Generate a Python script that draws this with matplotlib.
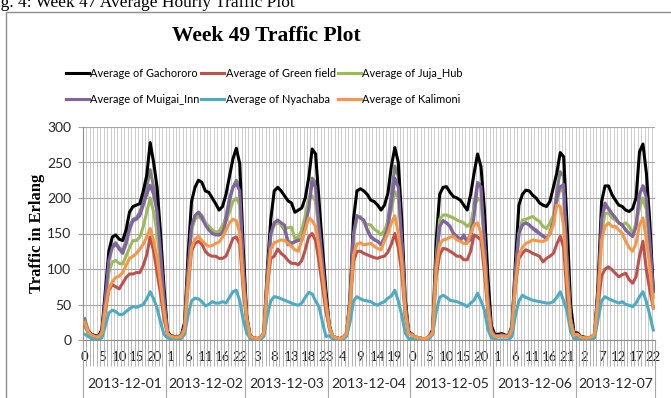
import numpy as np
import matplotlib.pyplot as plt
from matplotlib.patches import Rectangle

plt.rcParams['font.family'] = ['Lato', 'DejaVu Sans']

dates = ['2013-12-01', '2013-12-02', '2013-12-03', '2013-12-04',
         '2013-12-05', '2013-12-06', '2013-12-07']
# hours present in the export for each day (12-02 has no 17:00 row, 12-07 stops at 22:00)
day_hours = [list(range(24)),
             [h for h in range(24) if h != 17],
             list(range(24)),
             list(range(24)),
             list(range(24)),
             list(range(24)),
             list(range(23))]

gachororo = [
    [22, 12, 8, 6, 5, 15, 70, 125, 145, 148, 142, 140, 155, 180, 188, 190, 192, 210, 232, 278, 250, 215, 150, 75],
    [12, 6, 5, 5, 6, 25, 120, 195, 215, 225, 222, 210, 208, 200, 192, 183, 188, 205, 230, 255, 270, 248, 130],
    [35, 6, 3, 2, 3, 10, 100, 170, 210, 215, 210, 203, 196, 193, 180, 183, 186, 200, 228, 269, 262, 195, 130, 70],
    [20, 5, 3, 2, 3, 10, 60, 170, 210, 213, 210, 205, 197, 195, 190, 183, 190, 207, 245, 271, 250, 170, 60, 12],
    [8, 4, 3, 2, 2, 5, 15, 140, 205, 215, 216, 208, 202, 200, 197, 190, 183, 205, 235, 262, 244, 183, 90, 20],
    [8, 8, 9, 7, 6, 20, 110, 190, 205, 211, 210, 204, 200, 193, 190, 188, 195, 215, 235, 264, 258, 160, 50, 10],
    [10, 5, 4, 3, 4, 8, 80, 195, 217, 217, 205, 197, 190, 188, 183, 181, 185, 200, 265, 276, 235, 165, 70],
]
green_field = [
    [20, 10, 6, 4, 4, 8, 40, 70, 78, 75, 72, 80, 88, 93, 93, 95, 95, 105, 120, 145, 125, 95, 65, 30],
    [8, 5, 4, 4, 5, 15, 75, 125, 136, 139, 135, 125, 120, 118, 118, 115, 115, 118, 130, 143, 145, 135, 70],
    [25, 5, 3, 2, 3, 10, 75, 115, 118, 128, 122, 118, 112, 108, 108, 106, 112, 127, 145, 150, 140, 110, 75, 40],
    [16, 5, 3, 2, 3, 10, 45, 110, 125, 125, 122, 120, 118, 116, 115, 117, 118, 124, 135, 150, 130, 95, 35, 8],
    [7, 4, 3, 2, 2, 5, 10, 90, 120, 129, 128, 125, 122, 118, 118, 113, 113, 125, 148, 145, 141, 95, 40, 8],
    [5, 5, 6, 5, 5, 15, 75, 115, 122, 127, 125, 122, 120, 118, 110, 115, 118, 122, 135, 146, 130, 60, 20, 5],
    [7, 4, 3, 3, 4, 8, 50, 90, 100, 103, 99, 94, 89, 92, 94, 85, 80, 89, 118, 139, 99, 70, 45],
]
juja_hub = [
    [22, 10, 6, 4, 4, 10, 50, 95, 110, 112, 108, 107, 118, 130, 140, 140, 145, 160, 180, 200, 180, 150, 105, 50],
    [9, 5, 4, 4, 5, 18, 95, 155, 170, 174, 170, 165, 160, 155, 152, 153, 162, 168, 180, 195, 200, 190, 95],
    [30, 5, 3, 2, 3, 10, 88, 148, 162, 165, 163, 157, 158, 159, 143, 145, 155, 175, 200, 203, 195, 150, 100, 55],
    [18, 5, 3, 2, 3, 10, 55, 145, 172, 174, 165, 163, 162, 156, 153, 148, 155, 165, 183, 209, 200, 135, 50, 10],
    [8, 4, 3, 2, 2, 5, 12, 115, 170, 176, 176, 174, 172, 169, 167, 165, 160, 165, 185, 200, 195, 135, 55, 12],
    [6, 6, 7, 6, 5, 18, 95, 150, 169, 170, 172, 174, 170, 167, 160, 157, 165, 175, 193, 215, 207, 110, 30, 8],
    [8, 4, 3, 3, 4, 8, 65, 150, 178, 179, 172, 169, 165, 162, 165, 160, 150, 165, 185, 200, 183, 120, 60],
]
muigai_inn = [
    [25, 12, 7, 5, 4, 12, 60, 112, 130, 135, 128, 122, 135, 155, 168, 170, 175, 190, 205, 218, 205, 180, 125, 60],
    [10, 5, 4, 4, 5, 20, 100, 160, 175, 180, 172, 162, 155, 150, 148, 148, 150, 168, 195, 215, 220, 210, 105],
    [30, 5, 3, 2, 3, 10, 90, 150, 165, 169, 165, 162, 134, 136, 139, 141, 140, 160, 185, 222, 215, 160, 110, 58],
    [18, 5, 3, 2, 3, 10, 55, 150, 175, 172, 169, 155, 145, 141, 139, 134, 142, 160, 193, 228, 215, 140, 50, 10],
    [8, 4, 3, 2, 2, 5, 12, 110, 160, 168, 165, 160, 150, 146, 141, 148, 139, 141, 175, 219, 216, 140, 60, 15],
    [6, 6, 7, 6, 5, 18, 95, 150, 162, 165, 162, 157, 153, 150, 146, 143, 150, 165, 200, 216, 219, 100, 30, 8],
    [8, 4, 3, 3, 4, 8, 70, 170, 193, 185, 178, 172, 165, 162, 155, 150, 146, 160, 205, 217, 200, 140, 68],
]
nyachaba = [
    [8, 5, 2, 1, 1, 3, 20, 38, 42, 40, 36, 36, 40, 44, 47, 46, 48, 50, 58, 68, 58, 45, 25, 8],
    [3, 1, 1, 1, 2, 8, 35, 55, 59, 58, 54, 48, 50, 54, 52, 52, 54, 52, 60, 68, 70, 55, 28],
    [10, 2, 1, 0, 1, 5, 35, 55, 61, 60, 58, 56, 54, 52, 50, 49, 52, 60, 67, 65, 55, 47, 25, 5],
    [6, 1, 0, 0, 1, 5, 25, 55, 61, 58, 56, 55, 54, 51, 49, 52, 54, 59, 62, 70, 55, 35, 10, 2],
    [2, 1, 0, 0, 0, 2, 8, 40, 60, 63, 60, 56, 55, 54, 52, 50, 47, 52, 56, 66, 55, 42, 15, 3],
    [1, 0, 0, 0, 0, 5, 35, 55, 63, 60, 58, 56, 55, 54, 53, 52, 52, 54, 60, 68, 55, 40, 12, 2],
    [2, 1, 0, 0, 0, 3, 30, 55, 61, 58, 56, 54, 52, 54, 50, 49, 47, 52, 61, 68, 54, 35, 14],
]
kalimoni = [
    [25, 12, 7, 5, 4, 10, 45, 72, 82, 88, 90, 95, 105, 115, 118, 122, 128, 135, 145, 157, 140, 115, 80, 40],
    [9, 5, 4, 4, 5, 15, 80, 130, 142, 146, 140, 135, 132, 133, 136, 138, 145, 155, 165, 170, 168, 150, 80],
    [30, 5, 3, 2, 3, 10, 80, 128, 137, 139, 141, 140, 136, 132, 127, 125, 141, 155, 172, 168, 160, 130, 90, 50],
    [18, 5, 3, 2, 3, 10, 50, 120, 135, 137, 134, 135, 136, 132, 129, 127, 140, 150, 165, 175, 150, 110, 40, 8],
    [7, 4, 3, 2, 2, 5, 10, 100, 135, 141, 142, 145, 146, 141, 139, 136, 136, 150, 162, 165, 150, 110, 45, 10],
    [5, 5, 6, 5, 5, 15, 80, 120, 130, 136, 138, 141, 140, 139, 139, 141, 150, 162, 190, 188, 160, 80, 25, 6],
    [8, 4, 3, 3, 4, 8, 60, 140, 160, 165, 160, 160, 155, 150, 139, 130, 125, 136, 162, 172, 141, 103, 45],
]
# extra column left in the pivot chart, its legend entry was removed
unlabelled = [
    [30, 14, 8, 6, 5, 12, 60, 115, 133, 137, 130, 125, 140, 160, 170, 172, 180, 195, 215, 240, 215, 185, 130, 65],
    [10, 5, 4, 4, 5, 20, 100, 160, 175, 180, 175, 165, 160, 155, 150, 148, 155, 175, 200, 215, 225, 215, 110],
    [30, 5, 3, 2, 3, 10, 90, 150, 165, 168, 162, 155, 140, 136, 138, 140, 142, 160, 190, 228, 222, 165, 115, 60],
    [18, 5, 3, 2, 3, 10, 55, 150, 175, 172, 168, 155, 146, 142, 139, 135, 145, 170, 205, 245, 230, 140, 50, 10],
    [8, 4, 3, 2, 2, 5, 12, 115, 160, 168, 165, 160, 150, 146, 141, 145, 139, 150, 190, 222, 218, 140, 60, 15],
    [6, 6, 7, 6, 5, 18, 95, 150, 162, 165, 162, 158, 155, 150, 147, 143, 150, 170, 210, 237, 230, 120, 35, 8],
    [8, 4, 3, 3, 4, 8, 70, 170, 190, 185, 178, 172, 165, 162, 155, 150, 146, 160, 205, 217, 210, 150, 68],
]

series = [
    ('Average of Gachororo', gachororo, '#000000'),
    ('Average of Green field', green_field, '#c0504d'),
    ('Average of Juja_Hub', juja_hub, '#9bbb59'),
    ('Average of Muigai_Inn', muigai_inn, '#8064a2'),
    ('Average of Nyachaba', nyachaba, '#4bacc6'),
    ('Average of Kalimoni', kalimoni, '#f79646'),
]

hours = sum(day_hours, [])
n = len(hours)
x = np.arange(n)
day_len = [len(d) for d in day_hours]
bounds = np.concatenate([[0], np.cumsum(day_len)]) - 0.5

W, H = 671, 398
fig = plt.figure(figsize=(W / 100, H / 100), dpi=100)
fig.patch.set_facecolor('white')

# chart area frame (runs off the right and bottom of the page crop)
fig.patches.append(Rectangle((6 / W, -0.2), 1.2, 1 - 12 / H + 0.2, transform=fig.transFigure,
                             fill=False, edgecolor='#8c8c8c', lw=1.0, clip_on=False))

# caption of the page, only its lower half falls inside the crop
fig.text(-14 / W, 1 - 7 / H, 'Fig. 4: Week 47 Average Hourly Traffic Plot',
         family='Liberation Serif', fontsize=12.5, va='baseline', ha='left')

ax = fig.add_axes([83 / W, 1 - 340 / H, 572 / W, 213 / H])

ax.plot(x, sum(unlabelled, []), color='#7f7f7f', lw=2.2, zorder=2)
handles = {}
for k, (name, data, col) in enumerate(series):
    ln, = ax.plot(x, sum(data, []), color=col, lw=2.2, label=name, zorder=3 + k,
                  solid_joinstyle='round')
    handles[name] = ln

ax.set_xlim(-0.5, n - 0.5)
ax.set_ylim(0, 300)
ax.set_yticks(np.arange(0, 301, 50))
ax.grid(axis='y', color='#a6a6a6', lw=0.8, zorder=1)

# one gridline / tick per hour, a label every fifth category
ax.set_xticks(np.arange(-0.5, n), minor=True)
ax.grid(axis='x', which='minor', color='#c4c4c4', lw=0.6, zorder=0)
major = np.arange(0, n, 5)
ax.set_xticks(major)
ax.set_xticklabels([str(hours[i]) for i in major])
ax.tick_params(axis='x', which='major', length=0, pad=8, labelsize=9.5, labelcolor='#262626')
ax.tick_params(axis='x', which='minor', length=19, width=0.6, color='#a6a6a6', direction='out')
ax.tick_params(axis='y', length=3.5, width=0.8, color='#a6a6a6', labelsize=10,
               labelcolor='#262626', pad=5)

for s in ['top', 'right']:
    ax.spines[s].set_visible(False)
for s in ['left', 'bottom']:
    ax.spines[s].set_color('#8c8c8c')
    ax.spines[s].set_linewidth(0.8)

# day separators and date row
tr = ax.get_xaxis_transform()
for b in bounds:
    ax.plot([b, b], [0, -0.3], transform=tr, color='#a6a6a6', lw=0.8, clip_on=False)
for d, lo, hi in zip(dates, bounds[:-1], bounds[1:]):
    ax.text((lo + hi) / 2, -0.205, d, transform=tr, ha='center', va='center',
            fontsize=10, color='#262626')

fig.text(37 / W, 1 - 233 / H, 'Traffic in Erlang', rotation=90, family='Liberation Serif',
         fontweight='bold', fontsize=12, ha='center', va='center')
fig.text(266 / W, 1 - 36 / H, 'Week 49 Traffic Plot', family='Liberation Serif',
         fontweight='bold', fontsize=15.5, ha='center', va='center')

order = ['Average of Gachororo', 'Average of Muigai_Inn', 'Average of Green field',
         'Average of Nyachaba', 'Average of Juja_Hub', 'Average of Kalimoni']
fig.legend([handles[o] for o in order], order, ncol=3, loc='center',
           bbox_to_anchor=(264 / W, 1 - 86.5 / H), frameon=False, fontsize=7.9,
           handlelength=2.1, handletextpad=0.1, columnspacing=0.2, labelspacing=1.4)

fig.savefig('out.png', dpi=100)
